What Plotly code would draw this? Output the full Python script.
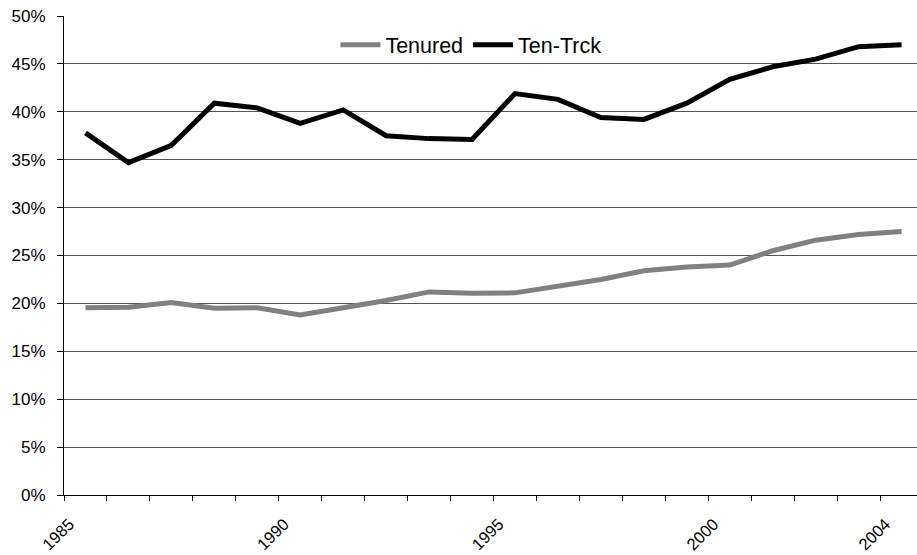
import plotly.graph_objects as go

years = [1985, 1986, 1987, 1988, 1989, 1990, 1991, 1992, 1993, 1994,
         1995, 1996, 1997, 1998, 1999, 2000, 2001, 2002, 2003, 2004]
tenured = [19.55, 19.6, 20.1, 19.5, 19.55, 18.8, 19.55, 20.3, 21.2, 21.05,
           21.1, 21.75, 22.5, 23.4, 23.8, 24.0, 25.5, 26.6, 27.2, 27.5]
ten_trck = [37.8, 34.7, 36.5, 40.9, 40.4, 38.8, 40.2, 37.5, 37.2, 37.1,
            41.9, 41.3, 39.4, 39.2, 40.9, 43.4, 44.7, 45.5, 46.8, 47.0]
label_years = [1985, 1990, 1995, 2000, 2004]
y_ticks = [0, 5, 10, 15, 20, 25, 30, 35, 40, 45, 50]

FONT = "Liberation Sans, Arial, sans-serif"
x_range = [years[0] - 0.5, years[-1] + 0.36]
boundaries = [years[0] - 0.5 + i for i in range(len(years) + 1)]

fig = go.Figure()
fig.add_trace(go.Scatter(x=years, y=tenured, name="Tenured", mode="lines",
                         line=dict(color="#808080", width=5)))
fig.add_trace(go.Scatter(x=years, y=ten_trck, name="Ten-Trck", mode="lines",
                         line=dict(color="#000000", width=5)))
# invisible helper trace for the boundary tick axis
fig.add_trace(go.Scatter(x=years, y=ten_trck, xaxis="x2", mode="lines",
                         line=dict(width=0), opacity=0, showlegend=False,
                         hoverinfo="skip"))

fig.update_layout(
    width=917, height=555,
    margin=dict(l=64, r=0, t=16, b=60, autoexpand=False),
    paper_bgcolor="white", plot_bgcolor="white",
    font=dict(family=FONT, size=17, color="#000000"),
    showlegend=True,
    legend=dict(orientation="h", x=0.477, xanchor="center", y=0.94, yanchor="middle",
                bgcolor="rgba(0,0,0,0)", font=dict(size=21.5, family=FONT),
                itemwidth=40),
    xaxis=dict(range=x_range, tickmode="array", tickvals=label_years,
               ticktext=[str(v) for v in label_years], tickangle=-45,
               ticks="", showgrid=False, zeroline=False, automargin=False,
               showline=True, linecolor="#000000", linewidth=1,
               ticklabelshift=-16, ticklabelstandoff=12,
               tickfont=dict(size=16.5, family=FONT)),
    xaxis2=dict(range=x_range, overlaying="x", anchor="y", side="bottom",
                tickmode="array", tickvals=boundaries, ticks="outside",
                ticklen=5, tickcolor="#000000", tickwidth=1, automargin=False,
                showticklabels=False, showgrid=False, zeroline=False,
                showline=False),
    yaxis=dict(range=[0, 50], tickmode="array", tickvals=y_ticks,
               ticktext=[f"{v}%" for v in y_ticks], automargin=False,
               showgrid=True, gridcolor="#555555", gridwidth=1,
               zeroline=False, showline=True, linecolor="#000000", linewidth=1,
               ticks="outside", ticklen=6, tickcolor="#000000",
               ticklabelstandoff=8,
               tickfont=dict(size=17, family=FONT)),
)

fig.write_html(
    "out.html",
    config={"displayModeBar": False},
    post_script="document.body.style.margin='0';document.body.style.overflow='hidden';",
)
